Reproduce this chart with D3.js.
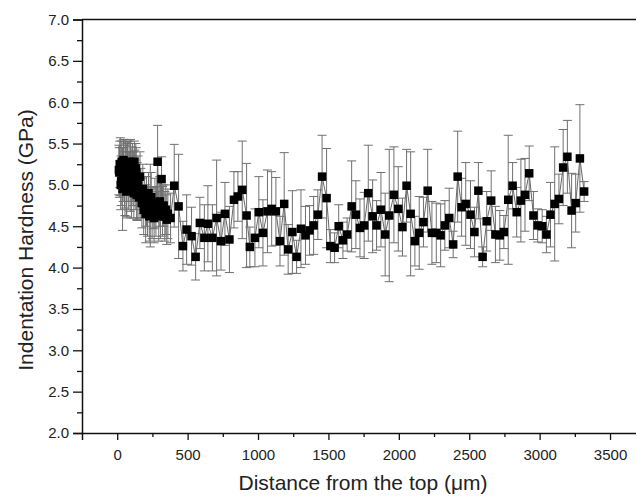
<!DOCTYPE html>
<html><head><meta charset="utf-8">
<script src="https://cdn.jsdelivr.net/npm/d3@7/dist/d3.min.js"></script>
<style>body{margin:0;background:#fff}svg{display:block}</style>
</head><body>
<svg id="c" width="636" height="501"></svg>
<script>
// Distance from the top (µm)
const distance = [12,15,18,22,25,28,32,35,38,42,45,48,52,55,58,62,65,68,72,75,78,82,85,88,92,95,98,102,105,108,112,115,118,122,125,128,132,135,138,142,148,155,162,168,175,182,188,195,202,208,215,222,228,235,242,248,255,262,268,275,287,295,302,308,315,322,330,338,345,352,360,
379,405,436,467,493,528,557,587,619,644,676,706,737,765,797,829,857,888,919,942,978,1006,1035,1067,1097,1127,1156,1186,1214,1244,1274,1305,1337,1366,1395,1425,1455,1487,1514,1544,1573,1603,1633,1665,1695,1724,1754,1783,1814,1842,1873,1903,1932,1965,1996,2026,2055,2084,2114,2145,2175,2205,2235,2266,2297,2327,2358,2386,2418,2446,2475,2509,2537,2565,2595,2624,2656,2686,2717,2746,2777,2808,2837,2867,2896,2926,2956,2986,3018,3048,3077,3107,3137,3167,3197,3227,3256,3286,3316];
// Indentation hardness (GPa)
const hardness = [5.18,5.15,5.25,5.22,5.0,5.05,5.28,5.2,4.95,5.1,5.3,5.25,5.02,4.98,5.22,5.18,4.92,5.05,5.25,5.22,5.1,5.0,5.28,5.15,4.98,5.25,5.1,4.95,5.18,5.2,5.05,5.1,4.9,5.28,5.12,5.0,5.2,5.15,4.88,4.92,5.05,4.85,5.1,4.9,4.78,4.95,4.7,4.85,4.65,4.8,4.68,4.9,4.62,4.75,4.85,4.65,4.72,4.6,4.78,4.68,5.28,4.62,4.8,4.7,5.07,4.68,4.75,4.62,4.7,4.58,4.65,
4.60,4.99,4.74,4.26,4.46,4.38,4.13,4.54,4.36,4.53,4.36,4.60,4.32,4.65,4.34,4.82,4.86,4.94,4.63,4.25,4.36,4.67,4.42,4.68,4.71,4.68,4.32,4.77,4.22,4.43,4.13,4.47,4.39,4.45,4.51,4.64,5.10,4.84,4.26,4.24,4.50,4.33,4.40,4.74,4.64,4.48,4.51,4.90,4.62,4.51,4.70,4.40,4.63,4.88,4.71,4.49,4.99,4.65,4.32,4.42,4.55,4.93,4.42,4.42,4.39,4.51,4.60,4.28,5.10,4.73,4.77,4.64,4.43,4.93,4.13,4.56,4.81,4.40,4.39,4.43,4.82,4.99,4.67,4.81,4.88,5.14,4.63,4.51,4.50,4.40,4.64,4.77,4.83,5.21,5.34,4.69,4.78,5.32,4.92];
// Standard deviation (GPa)
const errorBar = [0.3,0.3,0.28,0.35,0.3,0.3,0.25,0.25,0.5,0.3,0.25,0.3,0.3,0.35,0.3,0.3,0.3,0.45,0.28,0.3,0.3,0.3,0.25,0.25,0.3,0.3,0.3,0.35,0.28,0.3,0.3,0.3,0.3,0.25,0.3,0.3,0.3,0.3,0.3,0.35,0.3,0.25,0.3,0.3,0.3,0.3,0.3,0.25,0.35,0.3,0.3,0.25,0.3,0.5,0.3,0.3,0.25,0.3,0.3,0.3,0.44,0.3,0.3,0.35,0.27,0.3,0.25,0.3,0.3,0.3,0.3,
0.3,0.5,0.63,0.3,0.42,0.35,0.28,0.31,0.4,0.46,0.4,0.7,0.35,0.38,0.4,0.34,0.3,0.59,0.63,0.24,0.35,0.43,0.4,0.5,0.45,0.41,0.3,0.62,0.3,0.5,0.2,0.47,0.35,0.3,0.35,0.3,0.5,0.6,0.2,0.18,0.26,0.22,0.2,0.55,0.41,0.35,0.4,0.58,0.44,0.3,0.45,0.5,0.8,0.58,0.51,0.35,0.44,0.75,0.3,0.44,0.3,0.5,0.38,0.36,0.38,0.3,0.36,0.16,0.55,0.35,0.5,0.41,0.3,0.34,0.12,0.36,0.36,0.34,0.3,0.2,0.78,0.28,0.3,0.5,0.44,0.33,0.29,0.2,0.2,0.22,0.39,0.69,0.3,0.46,0.44,0.45,0.35,0.65,0.12];
const xTicks = [0,500,1000,1500,2000,2500,3000,3500];
const yTicks = [2.0,2.5,3.0,3.5,4.0,4.5,5.0,5.5,6.0,6.5,7.0];

const svg = d3.select("#c");
const L = 82, R = 638.2, T = 19.5, B = 433;
const x = d3.scaleLinear().domain([-250, 3700]).range([L, R]);
const y = d3.scaleLinear().domain([2, 7]).range([B, T]);
const data = distance.map((d,i)=>({d, h:hardness[i], e:errorBar[i]}));
const FONT = "'Liberation Sans', Arial, sans-serif";

// connecting line
svg.append("path").datum(data)
  .attr("fill","none").attr("stroke","#555").attr("stroke-width",0.9)
  .attr("d", d3.line().x(p=>x(p.d)).y(p=>y(p.h)));

// error bars
const eb = svg.append("g").attr("stroke","#707070").attr("stroke-width",1).attr("fill","none");
data.forEach(p=>{
  const cx = x(p.d), y1 = y(p.h+p.e), y0 = y(p.h-p.e);
  eb.append("line").attr("x1",cx).attr("x2",cx).attr("y1",y1).attr("y2",y0);
  eb.append("line").attr("x1",cx-4.5).attr("x2",cx+4.5).attr("y1",y1).attr("y2",y1);
  eb.append("line").attr("x1",cx-4.5).attr("x2",cx+4.5).attr("y1",y0).attr("y2",y0);
});

// markers
svg.append("g").selectAll("rect").data(data).join("rect")
  .attr("x",p=>x(p.d)-4.25).attr("y",p=>y(p.h)-4.25)
  .attr("width",8.5).attr("height",8.5).attr("fill","#000");

// frame
svg.append("line").attr("x1",L).attr("x2",R).attr("y1",T).attr("y2",T).attr("stroke","#111").attr("stroke-width",1.5);
svg.append("line").attr("x1",R).attr("x2",R).attr("y1",T).attr("y2",B).attr("stroke","#111").attr("stroke-width",1.5);

// x axis
svg.append("g").attr("transform",`translate(0,${B})`)
  .call(d3.axisBottom(x).tickValues(xTicks).tickSize(7).tickPadding(9).tickFormat(d3.format("d")));
const xMinor = svg.append("g").attr("transform",`translate(0,${B})`)
  .call(d3.axisBottom(x).tickValues(xTicks.map(v=>v-250).concat([3750]).filter(v=>v>-250 && v<3700)).tickSize(4).tickFormat(""));
xMinor.select(".domain").remove();
// y axis
svg.append("g").attr("transform",`translate(${L},0)`)
  .call(d3.axisLeft(y).tickValues(yTicks).tickSize(9).tickPadding(4).tickFormat(d3.format(".1f")));
const yMinor = svg.append("g").attr("transform",`translate(${L},0)`)
  .call(d3.axisLeft(y).tickValues(yTicks.slice(0,-1).map(v=>v+0.25)).tickSize(5).tickFormat(""));
yMinor.select(".domain").remove();

svg.selectAll(".domain").attr("stroke","#111").attr("stroke-width",1.5);
svg.selectAll(".tick line").attr("stroke","#111").attr("stroke-width",1.3);
svg.selectAll(".tick text").attr("font-family",FONT).attr("font-size",15).attr("fill","#222");

svg.append("text").attr("x",363).attr("y",490).attr("text-anchor","middle")
  .attr("font-family",FONT).attr("font-size",21).attr("fill","#222").text("Distance from the top (μm)");
svg.append("text").attr("transform",`translate(33,240) rotate(-90)`).attr("text-anchor","middle")
  .attr("font-family",FONT).attr("font-size",21).attr("fill","#222").text("Indentation Hardness (GPa)");
</script>
</body></html>
